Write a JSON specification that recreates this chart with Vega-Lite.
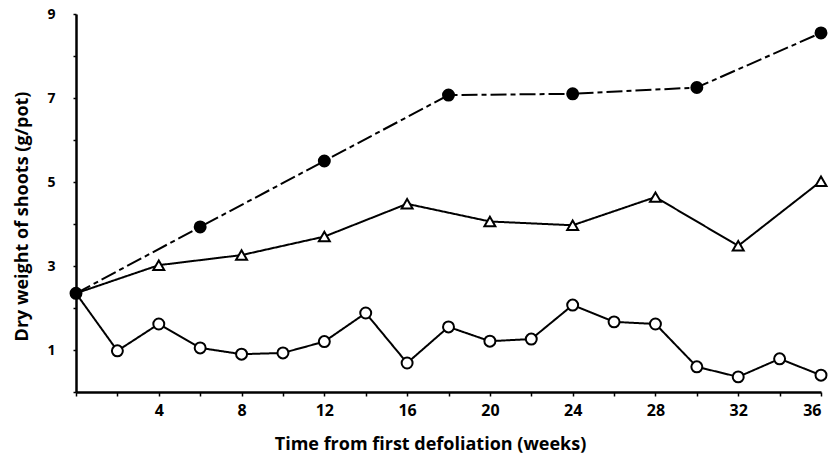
{
  "$schema": "https://vega.github.io/schema/vega-lite/v6.json",
  "width": 745,
  "height": 378,
  "autosize": {"type": "none"},
  "padding": {"left": 76, "top": 14, "right": 13, "bottom": 77},
  "background": "white",
  "config": {"view": {"stroke": null}, "font": "Open Sans"},
  "data": {
    "values": [
      {"s": "A", "week": 0, "weight": 2.35},
      {"s": "A", "week": 6, "weight": 3.93},
      {"s": "A", "week": 12, "weight": 5.5},
      {"s": "A", "week": 18, "weight": 7.07},
      {"s": "A", "week": 24, "weight": 7.1},
      {"s": "A", "week": 30, "weight": 7.25},
      {"s": "A", "week": 36, "weight": 8.55},
      {"s": "B", "week": 0, "weight": 2.35},
      {"s": "B", "week": 4, "weight": 3.02},
      {"s": "B", "week": 8, "weight": 3.26},
      {"s": "B", "week": 12, "weight": 3.7},
      {"s": "B", "week": 16, "weight": 4.48},
      {"s": "B", "week": 20, "weight": 4.06},
      {"s": "B", "week": 24, "weight": 3.97},
      {"s": "B", "week": 28, "weight": 4.64},
      {"s": "B", "week": 32, "weight": 3.48},
      {"s": "B", "week": 36, "weight": 5.02},
      {"s": "C", "week": 0, "weight": 2.35},
      {"s": "C", "week": 2, "weight": 0.98},
      {"s": "C", "week": 4, "weight": 1.62},
      {"s": "C", "week": 6, "weight": 1.05},
      {"s": "C", "week": 8, "weight": 0.9},
      {"s": "C", "week": 10, "weight": 0.93},
      {"s": "C", "week": 12, "weight": 1.2},
      {"s": "C", "week": 14, "weight": 1.88},
      {"s": "C", "week": 16, "weight": 0.69},
      {"s": "C", "week": 18, "weight": 1.55},
      {"s": "C", "week": 20, "weight": 1.21},
      {"s": "C", "week": 22, "weight": 1.26},
      {"s": "C", "week": 24, "weight": 2.07},
      {"s": "C", "week": 26, "weight": 1.67},
      {"s": "C", "week": 28, "weight": 1.62},
      {"s": "C", "week": 30, "weight": 0.6},
      {"s": "C", "week": 32, "weight": 0.36},
      {"s": "C", "week": 34, "weight": 0.79},
      {"s": "C", "week": 36, "weight": 0.4}
    ]
  },
  "encoding": {
    "x": {
      "field": "week",
      "type": "quantitative",
      "scale": {"domain": [0, 36], "nice": false, "zero": false},
      "axis": {
        "title": "Time from first defoliation (weeks)",
        "values": [0, 2, 4, 6, 8, 10, 12, 14, 16, 18, 20, 22, 24, 26, 28, 30, 32, 34, 36],
        "labelExpr": "datum.value % 4 == 0 && datum.value > 0 ? datum.label : ''",
        "grid": false,
        "domainColor": "black",
        "domainWidth": 2.5,
        "tickColor": "black",
        "tickSize": 4,
        "tickWidth": 1.5,
        "labelPadding": 6,
        "labelFont": "Open Sans",
        "labelFontSize": 16,
        "labelFontWeight": "bold",
        "labelColor": "black",
        "titleFont": "Open Sans",
        "titleFontSize": 18,
        "titleFontWeight": "bold",
        "titleColor": "black",
        "titlePadding": 17,
        "titleX": 354
      }
    },
    "y": {
      "field": "weight",
      "type": "quantitative",
      "scale": {"domain": [0, 9], "nice": false},
      "axis": {
        "title": "Dry weight of shoots (g/pot)",
        "values": [0, 1, 2, 3, 4, 5, 6, 7, 8, 9],
        "labelExpr": "datum.value % 2 == 1 ? datum.label : ''",
        "grid": false,
        "domainColor": "black",
        "domainWidth": 2.5,
        "tickColor": "black",
        "tickSize": 3,
        "tickWidth": 1.5,
        "labelPadding": 22,
        "labelFont": "Open Sans",
        "labelFontSize": 14,
        "labelFontWeight": "bold",
        "labelColor": "black",
        "labelAlign": "center",
        "titleFont": "Open Sans",
        "titleFontSize": 18,
        "titleFontWeight": "bold",
        "titleColor": "black",
        "titlePadding": 15,
        "titleY": 202
      }
    }
  },
  "layer": [
    {
      "mark": {"type": "line", "color": "black", "strokeWidth": 2},
      "encoding": {
        "detail": {"field": "s", "type": "nominal"},
        "strokeDash": {
          "field": "s",
          "type": "nominal",
          "scale": {"domain": ["A", "B", "C"], "range": [[16, 4, 5, 4], [1, 0], [1, 0]]},
          "legend": null
        }
      }
    },
    {
      "transform": [{"filter": "datum.s == 'A' || datum.week > 0"}],
      "mark": {"type": "point", "filled": true, "stroke": "black", "strokeWidth": 2, "opacity": 1, "size": 120},
      "encoding": {
        "shape": {
          "field": "s",
          "type": "nominal",
          "scale": {"domain": ["A", "B", "C"], "range": ["circle", "triangle-up", "circle"]},
          "legend": null
        },
        "fill": {
          "field": "s",
          "type": "nominal",
          "scale": {"domain": ["A", "B", "C"], "range": ["black", "white", "white"]},
          "legend": null
        }
      }
    }
  ]
}
